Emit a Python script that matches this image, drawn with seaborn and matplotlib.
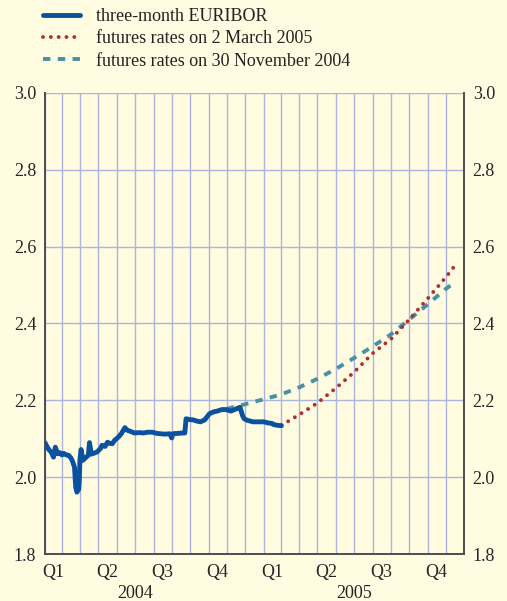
import matplotlib
matplotlib.use('Agg')
import matplotlib.pyplot as plt
import matplotlib.dates as mdates
import matplotlib.transforms as mtransforms
from matplotlib.ticker import FuncFormatter, NullFormatter, MultipleLocator
import seaborn as sns
import pandas as pd

# ── data ──────────────────────────────────────────────────────
euribor_dates = [
    '2004-02-02', '2004-02-05', '2004-02-09', '2004-02-12', '2004-02-16', '2004-02-19',
    '2004-02-23', '2004-02-26', '2004-03-01', '2004-03-04', '2004-03-08', '2004-03-12',
    '2004-03-16', '2004-03-18', '2004-03-22', '2004-03-24', '2004-03-26', '2004-03-29',
    '2004-03-30', '2004-03-31', '2004-04-02', '2004-04-05', '2004-04-09', '2004-04-14',
    '2004-04-16', '2004-04-19', '2004-04-23', '2004-04-29', '2004-05-04', '2004-05-07',
    '2004-05-12', '2004-05-16', '2004-05-20', '2004-05-24', '2004-05-28', '2004-06-03',
    '2004-06-08', '2004-06-14', '2004-06-18', '2004-06-22', '2004-06-30', '2004-07-08',
    '2004-07-15', '2004-07-22', '2004-07-30', '2004-08-06', '2004-08-12', '2004-08-20',
    '2004-08-28', '2004-08-31', '2004-09-02', '2004-09-10', '2004-09-20', '2004-09-22',
    '2004-09-24', '2004-09-30', '2004-10-06', '2004-10-12', '2004-10-18', '2004-10-25',
    '2004-11-02', '2004-11-09', '2004-11-15', '2004-11-23', '2004-11-29', '2004-12-08',
    '2004-12-14', '2004-12-20', '2004-12-23', '2004-12-27', '2004-12-30', '2005-01-04',
    '2005-01-14', '2005-01-25', '2005-02-01', '2005-02-08', '2005-02-14', '2005-02-17',
    '2005-02-23', '2005-03-02',
]
euribor_values = [
    2.089, 2.080, 2.070, 2.066, 2.052, 2.078,
    2.061, 2.064, 2.058, 2.062, 2.058, 2.057,
    2.050, 2.044, 2.026, 1.974, 1.961, 1.968,
    1.990, 2.044, 2.072, 2.044, 2.050, 2.057,
    2.090, 2.060, 2.062, 2.066, 2.074, 2.083,
    2.080, 2.091, 2.088, 2.087, 2.096, 2.104,
    2.113, 2.129, 2.122, 2.120, 2.115, 2.116,
    2.115, 2.117, 2.117, 2.114, 2.113, 2.112,
    2.113, 2.102, 2.113, 2.114, 2.115, 2.115,
    2.152, 2.150, 2.149, 2.146, 2.144, 2.149,
    2.165, 2.170, 2.172, 2.176, 2.176, 2.172,
    2.176, 2.180, 2.182, 2.161, 2.152, 2.148,
    2.144, 2.144, 2.144, 2.141, 2.140, 2.137,
    2.135, 2.134,
]

fut_mar_dates = ['2005-03-02', '2005-04-01', '2005-05-01', '2005-06-01', '2005-07-01', '2005-08-01',
                 '2005-09-01', '2005-10-01', '2005-11-01', '2005-12-01', '2005-12-15']
fut_mar_values = [2.135, 2.163, 2.193, 2.232, 2.273, 2.322, 2.360, 2.410, 2.465, 2.520, 2.548]

fut_nov_dates = ['2004-12-01', '2005-01-01', '2005-02-01', '2005-03-01', '2005-04-01', '2005-05-01',
                 '2005-06-01', '2005-07-01', '2005-08-01', '2005-09-01', '2005-10-01', '2005-11-01',
                 '2005-12-01', '2005-12-17']
fut_nov_values = [2.178, 2.190, 2.203, 2.215, 2.234, 2.256, 2.282, 2.310, 2.340, 2.372, 2.410, 2.450,
                  2.490, 2.508]

labels = ['three-month EURIBOR', 'futures rates on 2 March 2005', 'futures rates on 30 November 2004']
year_labels = ['2004', '2005']

df_eur = pd.DataFrame({'date': pd.to_datetime(euribor_dates), 'rate': euribor_values})
df_mar = pd.DataFrame({'date': pd.to_datetime(fut_mar_dates), 'rate': fut_mar_values})
df_nov = pd.DataFrame({'date': pd.to_datetime(fut_nov_dates), 'rate': fut_nov_values})

# ── style ─────────────────────────────────────────────────────
sns.set_style('white')
BG = '#fffce1'
GRID = '#aab4de'
SPINE = '#4d4d4d'
plt.rcParams['font.family'] = ['Liberation Serif', 'DejaVu Serif']
plt.rcParams['font.size'] = 13
plt.rcParams['text.color'] = '#222222'

fig = plt.figure(figsize=(5.07, 6.01), dpi=100, facecolor=BG)
ax = fig.add_axes([0.0878, 0.0782, 0.828, 0.7671], facecolor=BG)

sns.lineplot(data=df_nov, x='date', y='rate', ax=ax, color='#4a8fa3', lw=2.8,
             linestyle=(0, (1.9, 1.9)), label=labels[2], zorder=3)
sns.lineplot(data=df_mar, x='date', y='rate', ax=ax, color='#b03030', lw=2.8,
             linestyle=(0, (0.01, 2.0)), dash_capstyle='round', label=labels[1], zorder=4)
sns.lineplot(data=df_eur, x='date', y='rate', ax=ax, color='#0a52a0', lw=3.5,
             label=labels[0], zorder=5)

ax.set_xlim(pd.Timestamp('2004-02-01'), pd.Timestamp('2006-01-01'))
ax.set_ylim(1.8, 3.0)
ax.set_xlabel('')
ax.set_ylabel('')

# grid
ax.yaxis.set_major_locator(MultipleLocator(0.2))
ax.yaxis.set_major_formatter(FuncFormatter(lambda v, p: f'{v:.1f}'))
ax.xaxis.set_major_locator(mdates.MonthLocator())
ax.xaxis.set_major_formatter(NullFormatter())
ax.xaxis.set_minor_locator(mdates.MonthLocator(bymonth=[2, 5, 8, 11], bymonthday=15))
ax.xaxis.set_minor_formatter(FuncFormatter(
    lambda v, p: f'Q{(mdates.num2date(v).month - 2) // 3 + 1}'))
ax.grid(True, which='major', color=GRID, lw=1.0)
ax.set_axisbelow(True)
fig.canvas.draw()
ax.get_ygridlines()[-1].set_visible(False)

ax.tick_params(axis='y', which='both', length=0, labelleft=True, labelright=True,
               pad=6, labelsize=13)
ax.tick_params(axis='x', which='major', direction='out', length=4, width=1.2, color=SPINE)
ax.tick_params(axis='x', which='minor', length=0, pad=7, labelsize=13)

for side in ['left', 'right', 'bottom']:
    ax.spines[side].set_color(SPINE)
    ax.spines[side].set_linewidth(1.4)
ax.spines['top'].set_visible(False)

# year labels
trans = mtransforms.blended_transform_factory(ax.transData, ax.transAxes)
for yr in year_labels:
    ax.text(pd.Timestamp(f'{yr}-07-01'), -0.085, yr, transform=trans,
            ha='center', va='center', fontsize=13)

# legend above the plot
handles, lbls = ax.get_legend_handles_labels()
order = [lbls.index(l) for l in labels]
ax.get_legend().remove()
fig.legend([handles[i] for i in order], [lbls[i] for i in order],
           loc='upper left', bbox_to_anchor=(0.085, 0.986), frameon=False,
           handlelength=2.05, handletextpad=0.9, labelspacing=0.28,
           borderpad=0, borderaxespad=0, fontsize=13)

plt.savefig('out.png', dpi=100, facecolor=BG)
plt.close()
